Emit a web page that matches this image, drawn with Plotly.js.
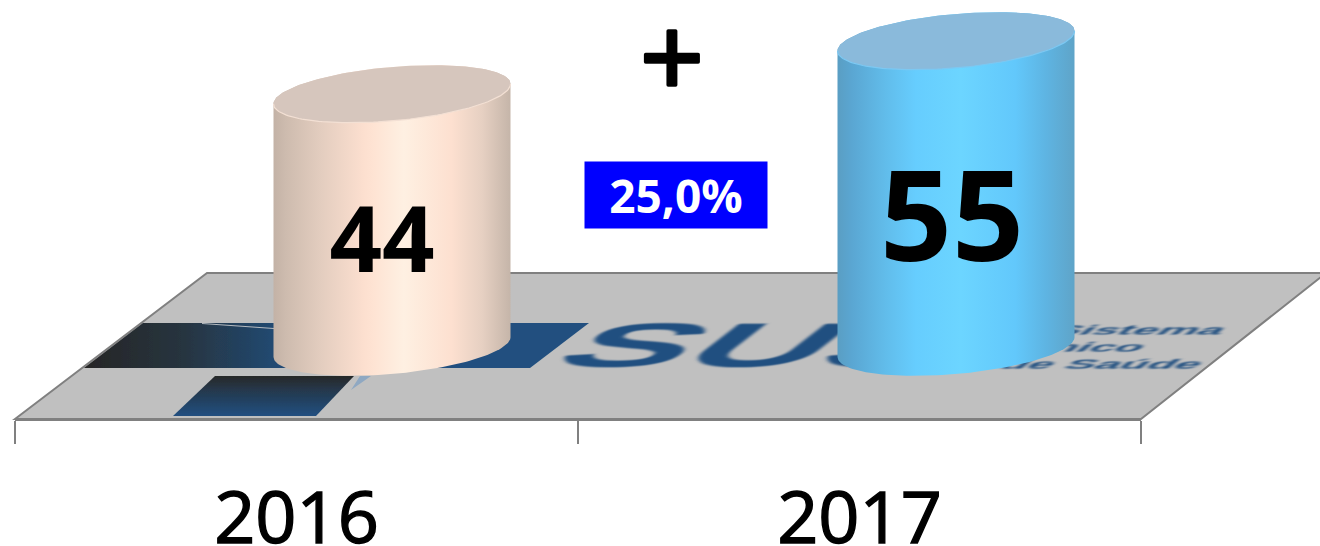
<!DOCTYPE html>
<html>
<head>
<meta charset="utf-8">
<script src="https://cdn.plot.ly/plotly-3.0.1.min.js"></script>
<style>html,body{margin:0;padding:0;background:#fff;overflow:hidden}</style>
</head>
<body>
<div id="chart" style="width:1320px;height:546px"></div>
<script>
// ---- data ----
var years = ['2016', '2017'];
var values = [44, 55];
var growthLabel = '25,0%';
var growthSign = '+';
var logoMark = 'SUS';
var logoWords = ['Sistema', 'Único', 'de Saúde'];

// ---- geometry / style ----
var W = 1320, H = 546, L = 15, R = 1141, B = 419;
var pxPerX = (R - L) / 2, pxPerY = 4.82, zeroPx = 306;
function xOf(p) { return (p - L) / pxPerX - 0.5; }
function yOf(p) { return (zeroPx - p) / pxPerY; }
var floorLevel = yOf(347);
var depthShift = [95.5, 96.5].map(function (d) { return d / pxPerX; });
var halfW = 118.5 / pxPerX, tilt = 10 / pxPerY, minor = 27 / pxPerY;
var labelShift = [[-10, 29], [-4, 36]];
var labelSizes = [92, 126];
var bodyScales = [
  [[0, '#c3b2a6'], [0.05, '#cdbbae'], [0.2, '#e3cdbf'], [0.38, '#fcdfcf'], [0.42, '#fee3d3'], [0.55, '#fef0e2'], [0.75, '#fde0d0'], [0.88, '#e6d0c2'], [1, '#c5b5a9']],
  [[0, '#5a9ec3'], [0.06, '#5aa6d2'], [0.2, '#61bcea'], [0.33, '#66cdfe'], [0.52, '#6cd5ff'], [0.75, '#62c8fb'], [0.88, '#5eb4e2'], [1, '#5fa4c8']]
];
var topColors = ['#d6c6bd', '#8abadb'];
var rimColors = ['#f3e0d4', '#7cc8f2'];

function ellipsePoint(cx, cy, t) {
  return [cx + halfW * Math.cos(t), cy + tilt * Math.cos(t) + minor * Math.sin(t)];
}
function bodyTrace(i) {
  var cx = i + depthShift[i], xs = [], ys = [], k, p, n = 80;
  for (k = 0; k <= n; k++) { p = ellipsePoint(cx, floorLevel, Math.PI + Math.PI * k / n); xs.push(p[0]); ys.push(p[1]); }
  for (k = 0; k <= n; k++) { p = ellipsePoint(cx, values[i], Math.PI * k / n); xs.push(p[0]); ys.push(p[1]); }
  xs.push(xs[0]); ys.push(ys[0]);
  return { type: 'scatter', mode: 'lines', x: xs, y: ys, fill: 'toself', hoverinfo: 'skip',
    line: { width: 0 }, fillgradient: { type: 'horizontal', colorscale: bodyScales[i] } };
}
function topTrace(i) {
  var cx = i + depthShift[i], xs = [], ys = [], k, p, n = 160;
  for (k = 0; k <= n; k++) { p = ellipsePoint(cx, values[i], 2 * Math.PI * k / n); xs.push(p[0]); ys.push(p[1]); }
  return { type: 'scatter', mode: 'lines', x: xs, y: ys, fill: 'toself', fillcolor: topColors[i],
    hoverinfo: 'skip', line: { width: 0 } };
}
function rimTrace(i) {
  var cx = i + depthShift[i], xs = [], ys = [], k, p, n = 80;
  for (k = 0; k <= n; k++) { p = ellipsePoint(cx, values[i], Math.PI + Math.PI * k / n); xs.push(p[0]); ys.push(p[1]); }
  return { type: 'scatter', mode: 'lines', x: xs, y: ys, hoverinfo: 'skip', line: { width: 1.2, color: rimColors[i] } };
}

// floor picture with the logo blocks
var floorSvg =
 '<svg xmlns="http://www.w3.org/2000/svg" width="1320" height="546" viewBox="0 0 1320 546">' +
 '<defs><filter id="b" x="-5%" y="-5%" width="110%" height="110%"><feGaussianBlur stdDeviation="0.7"/></filter>' +
 '<linearGradient id="g1" gradientUnits="userSpaceOnUse" x1="85" y1="0" x2="300" y2="0"><stop offset="0" stop-color="#262626"/><stop offset="0.45" stop-color="#27343f"/><stop offset="1" stop-color="#204f7f"/></linearGradient>' +
 '<linearGradient id="g2" gradientUnits="userSpaceOnUse" x1="0" y1="376" x2="0" y2="416"><stop offset="0" stop-color="#282828"/><stop offset="0.35" stop-color="#25384c"/><stop offset="1" stop-color="#204f80"/></linearGradient></defs>' +
 '<polygon points="15,419 207,273 1326,273 1141,419" fill="#c0c0c0" stroke="#808080" stroke-width="2"/>' +
 '<g filter="url(#b)">' +
 '<polygon points="143,323 589,323 530,368 84,368" fill="url(#g1)"/>' +
 '<line x1="202" y1="323.5" x2="274" y2="328.5" stroke="#b4bac0" stroke-width="1"/>' +
 '<polygon points="215,376 354,376 316,416 173,416" fill="url(#g2)"/>' +
 '<polygon points="360,376 371,376 351,390" fill="#8fa8c2"/>' +
 '</g></svg>';

// logo text lies flat on the floor, it is sheared after drawing
var logoTextPx = [
  { t: logoMark, x: 546, y: 351, size: 62, sx: 3.05, shear: -1.3 },
  { t: logoWords[0], x: 1047, y: 331, size: 14, sx: 3.2, shear: -1.3 },
  { t: logoWords[1], x: 1014, y: 348, size: 14, sx: 3.2, shear: -1.3 },
  { t: logoWords[2], x: 997, y: 365, size: 14, sx: 3.2, shear: -1.3 }
];
var logoTrace = {
  type: 'scatter', mode: 'text', cliponaxis: false, hoverinfo: 'skip',
  x: logoTextPx.map(function (d) { return xOf(d.x); }),
  y: logoTextPx.map(function (d) { return yOf(d.y); }),
  text: logoTextPx.map(function (d) { return d.t; }),
  textposition: 'middle right',
  textfont: { family: 'Liberation Sans', size: logoTextPx.map(function (d) { return d.size; }), color: '#204f80', weight: 700 }
};

var traces = [logoTrace];
years.forEach(function (y, i) { traces.push(bodyTrace(i)); traces.push(topTrace(i)); traces.push(rimTrace(i)); });
traces.push({
  type: 'scatter', mode: 'text', hoverinfo: 'skip',
  x: values.map(function (v, i) { return i + depthShift[i] + labelShift[i][0] / pxPerX; }),
  y: values.map(function (v, i) { return (v + floorLevel) / 2 - labelShift[i][1] / pxPerY; }),
  text: values.map(String),
  textposition: 'middle center',
  textfont: { family: 'Open Sans', size: labelSizes, color: '#000', weight: 700 }
});

var layout = {
  width: W, height: H,
  margin: { l: L, r: W - R, t: 0, b: H - B, pad: 0 },
  paper_bgcolor: '#fff', plot_bgcolor: 'rgba(0,0,0,0)',
  showlegend: false,
  xaxis: {
    type: 'linear', range: [-0.5, 1.5], fixedrange: true,
    tickmode: 'array', tickvals: [0, 1], ticktext: years, ticks: '',
    tickfont: { family: 'Open Sans', size: 72, color: '#000' },
    ticklabelstandoff: 36,
    showgrid: false, zeroline: false, showline: true, linecolor: '#808080', linewidth: 2,
    minor: { tickmode: 'array', tickvals: [-0.5, 0.5, 1.5], ticks: 'outside', ticklen: 23, tickwidth: 2, tickcolor: '#808080', showgrid: false }
  },
  yaxis: { range: [yOf(B), yOf(0)], visible: false, fixedrange: true },
  images: [{
    source: 'data:image/svg+xml;charset=utf-8,' + encodeURIComponent(floorSvg),
    xref: 'paper', yref: 'paper', xanchor: 'left', yanchor: 'top',
    x: -L / (R - L), y: 1, sizex: W / (R - L), sizey: H / B,
    sizing: 'stretch', layer: 'below'
  }],
  annotations: [
    { xref: 'paper', yref: 'paper', x: (672 - L) / (R - L), y: 1 - 55 / B, text: growthSign, showarrow: false,
      font: { family: 'Open Sans', size: 112, color: '#000' }, xanchor: 'center', yanchor: 'middle' },
    { xref: 'paper', yref: 'paper', x: (676 - L) / (R - L), y: 1 - 195 / B, text: '<b>' + growthLabel + '</b>', showarrow: false,
      font: { family: 'Open Sans', size: 46, color: '#fff' }, bgcolor: '#0000ff', width: 182, height: 66, borderpad: 0,
      xanchor: 'center', yanchor: 'middle', valign: 'middle', align: 'center' }
  ]
};

Plotly.newPlot('chart', traces, layout, { displayModeBar: false, staticPlot: true }).then(function () {
  var nodes = document.querySelectorAll('#chart .scatterlayer .trace:first-child .textpoint text');
  nodes.forEach(function (n, i) {
    var d = logoTextPx[i], x = +n.getAttribute('x'), y = +n.getAttribute('y');
    n.setAttribute('transform', 'translate(' + x + ',' + y + ') matrix(' + d.sx + ',0,' + d.shear + ',1,0,0) translate(' + (-x) + ',' + (-y) + ')');
    n.style.filter = 'blur(0.7px)';
  });
  var plus = document.querySelector('#chart .annotation text');
  if (plus) { plus.style.stroke = '#000'; plus.style.strokeWidth = '3.5px'; plus.style.strokeLinejoin = 'round'; }
  document.querySelectorAll('#chart .xtick text').forEach(function (t) {
    t.style.stroke = '#000'; t.style.strokeWidth = '1.4px';
  });
});
</script>
</body>
</html>
